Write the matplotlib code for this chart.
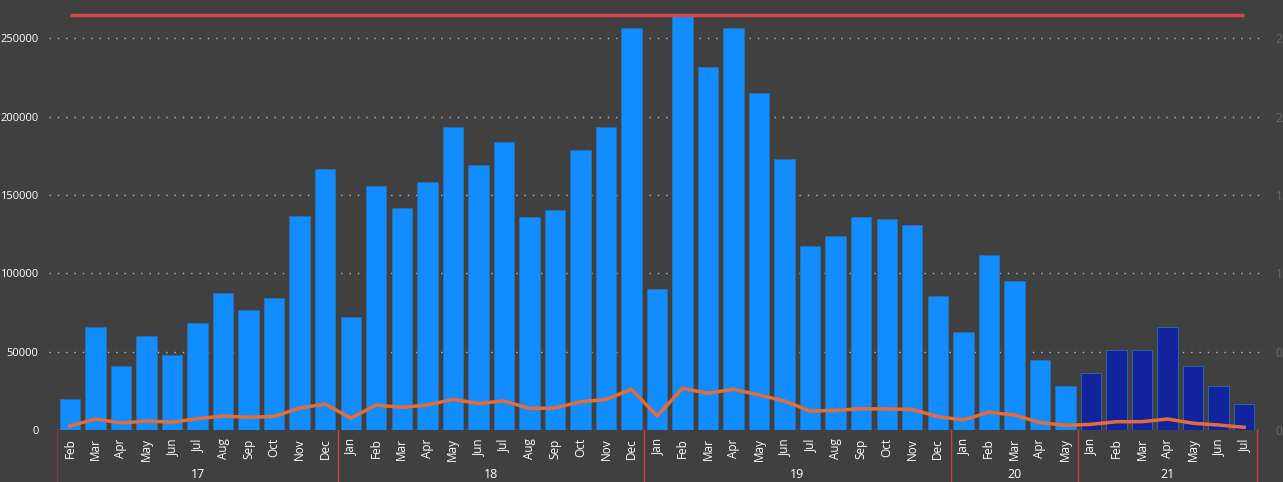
import matplotlib.pyplot as plt
import numpy as np

plt.rcParams['font.family'] = ['Open Sans', 'DejaVu Sans']

# month labels and years
months = ["Feb", "Mar", "Apr", "May", "Jun", "Jul", "Aug", "Sep", "Oct", "Nov", "Dec",
          "Jan", "Feb", "Mar", "Apr", "May", "Jun", "Jul", "Aug", "Sep", "Oct", "Nov", "Dec",
          "Jan", "Feb", "Mar", "Apr", "May", "Jun", "Jul", "Aug", "Sep", "Oct", "Nov", "Dec",
          "Jan", "Feb", "Mar", "Apr", "May",
          "Jan", "Feb", "Mar", "Apr", "May", "Jun", "Jul"]
years = ["17", "18", "19", "20", "21"]
year_counts = [11, 12, 12, 5, 7]

# bar values (left axis)
bars = [20000, 66000, 41000, 60000, 48000, 68000, 87500, 76500, 84000, 136500, 166500,
        72000, 156000, 141500, 158000, 193500, 169000, 183500, 136000, 140500, 178500, 193500, 256500,
        90000, 264000, 231500, 256500, 215000, 173000, 117500, 123500, 136000, 134500, 131000, 85500,
        62500, 111500, 95000, 44500, 28000,
        36500, 51000, 51000, 65500, 41000, 28000, 16500]

# line values (right axis)
line = [0.026, 0.070, 0.045, 0.057, 0.050, 0.072, 0.089, 0.081, 0.087, 0.140, 0.166,
        0.075, 0.159, 0.145, 0.159, 0.195, 0.170, 0.185, 0.138, 0.140, 0.180, 0.195, 0.260,
        0.089, 0.266, 0.234, 0.260, 0.223, 0.185, 0.121, 0.125, 0.136, 0.134, 0.132, 0.085,
        0.064, 0.113, 0.096, 0.047, 0.030,
        0.036, 0.053, 0.053, 0.070, 0.043, 0.032, 0.017]

target = 265100

bg = "#404040"
fig = plt.figure(figsize=(12.83, 4.82), dpi=100, facecolor=bg)
ax = fig.add_axes([0.0382, 0.1079, 0.9478, 0.871])
ax.set_facecolor(bg)

x = np.arange(len(bars))
n_dark = year_counts[-1]
colors = ["#118DFF"] * (len(bars) - n_dark) + ["#12239E"] * n_dark
ax.bar(x, bars, width=0.8, color=colors, edgecolor="#2a6fb0", linewidth=0.6, zorder=2)
ax.hlines(target, 0, len(bars) - 1, color="#D64550", linewidth=2.5, zorder=3)

ax.set_xlim(-0.82, len(bars) - 0.18)
ax.set_ylim(0, 267900)
ax.set_yticks([0, 50000, 100000, 150000, 200000, 250000])
ax.set_yticklabels(["0", "50000", "100000", "150000", "200000", "250000"])
ax.yaxis.grid(True, linestyle=(0, (1, 5)), color="#bbbbbb", linewidth=1, zorder=1)
ax.tick_params(axis="y", length=0, pad=7.5, labelsize=8, colors="white")
ax.set_xticks(x)
ax.set_xticklabels(months, rotation=90)
ax.tick_params(axis="x", length=0, pad=6, labelsize=8.5, colors="white")
for s in ax.spines.values():
    s.set_visible(False)

ax2 = ax.twinx()
ax2.plot(x, line, color="#E66C37", linewidth=2.5, zorder=4)
ax2.set_ylim(0, 2.679)
ax2.set_yticks([0, 0.5, 1.0, 1.5, 2.0, 2.5])
ax2.set_yticklabels(["0.0", "0.5", "1.0", "1.5", "2.0", "2.5"])
ax2.tick_params(axis="y", length=0, pad=7.5, labelsize=8.5, colors="#6a6a6a")
for s in ax2.spines.values():
    s.set_visible(False)

# year groups under the months
start = 0
bounds = [-0.5]
for yr, cnt in zip(years, year_counts):
    mid = start + (cnt - 1) / 2
    ax.text(mid, -0.105, yr, transform=ax.get_xaxis_transform(), ha="center", va="center",
            color="white", fontsize=9)
    start += cnt
    bounds.append(start - 0.5)
for i, b in enumerate(bounds):
    c = "#7a3a42" if i == 0 else "#C4404E"
    ax.plot([b, b], [0, -0.13], transform=ax.get_xaxis_transform(), color=c,
            linewidth=1, clip_on=False)

fig.savefig("out.png", dpi=100, facecolor=bg)
